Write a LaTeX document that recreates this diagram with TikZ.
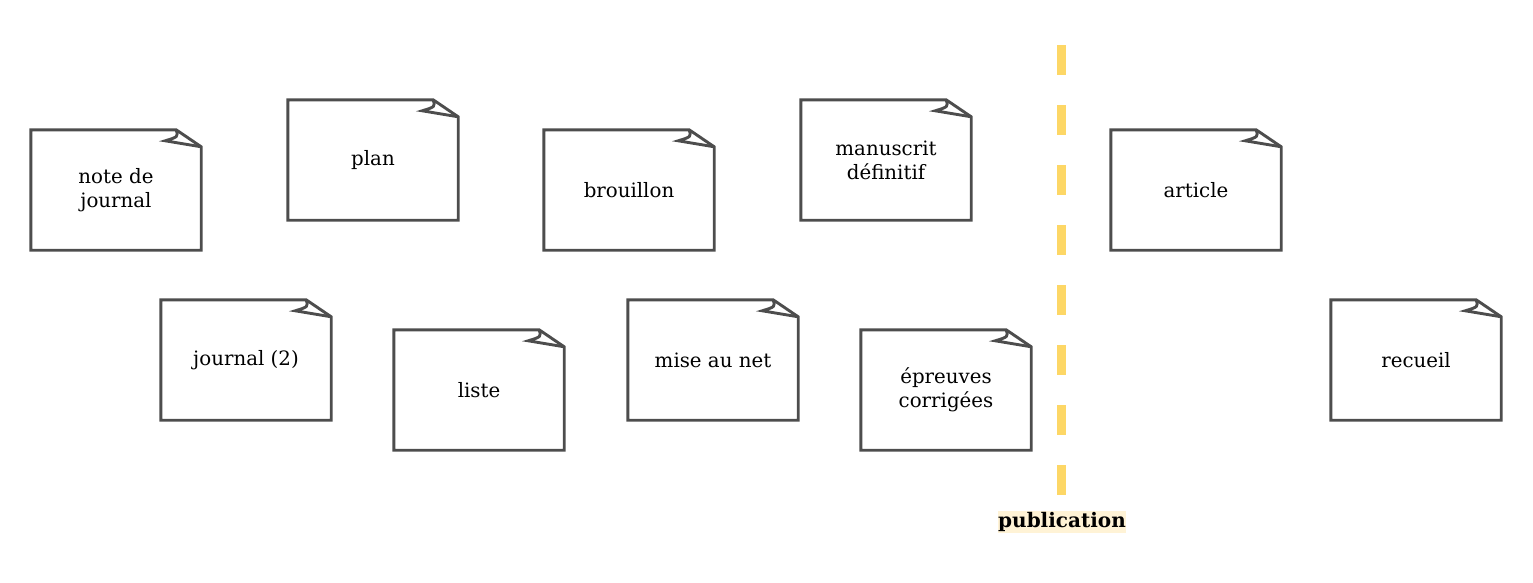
\documentclass[tikz,border=0pt]{standalone}
\usepackage{fontspec}
\setmainfont{DejaVu Serif}
\definecolor{edgegray}{HTML}{4D4D4D}
\definecolor{publine}{HTML}{FDD766}
\definecolor{pubbg}{HTML}{FFF3D6}
\tikzset{
  notebox/.style={minimum width=170pt, minimum height=120pt, inner sep=0pt, align=center,
    font=\fontsize{19.8}{24}\selectfont},
  noteline/.style={draw=edgegray, line width=2.9pt, line join=miter},
  publine/.style={draw=publine, line width=9pt, dash pattern=on 30pt off 30pt},
  publabel/.style={fill=pubbg, inner xsep=0pt, inner ysep=1pt, font=\fontsize{20}{24}\selectfont\bfseries}
}
\begin{document}
\begin{tikzpicture}[x=1pt,y=-1pt]
\useasboundingbox (0,0) rectangle (1533,582);
\node[notebox] (n1) at (116,190) {note de\\journal};
\node[notebox] (n2) at (373,160) {plan};
\node[notebox] (n3) at (629,190) {brouillon};
\node[notebox] (n4) at (886,160) {manuscrit\\définitif};
\node[notebox] (n5) at (1196,190) {article};
\node[notebox] (n6) at (246,360) {journal (2)};
\node[notebox] (n7) at (479,390) {liste};
\node[notebox] (n8) at (713,360) {mise au net};
\node[notebox] (n9) at (946,390) {épreuves\\corrigées};
\node[notebox] (n10) at (1416,360) {recueil};
\foreach \n in {n1,n2,n3,n4,n5,n6,n7,n8,n9,n10}{
  \draw[noteline] (\n.north west) -- ([xshift=-25pt]\n.north east) -- ([yshift=-17pt]\n.north east)
     -- (\n.south east) -- (\n.south west) -- cycle;
  \draw[noteline] ([xshift=-25pt]\n.north east) .. controls ([xshift=-23pt,yshift=-7pt]\n.north east)
     .. ([xshift=-36pt,yshift=-11pt]\n.north east) -- ([yshift=-17pt]\n.north east);
}
\coordinate (ptop) at (1061.5,45);
\coordinate (pbot) at (1061.5,495);
\draw[publine] (ptop) -- (pbot);
\node[publabel] (pub) at (1062,522) {publication};
\end{tikzpicture}
\end{document}
